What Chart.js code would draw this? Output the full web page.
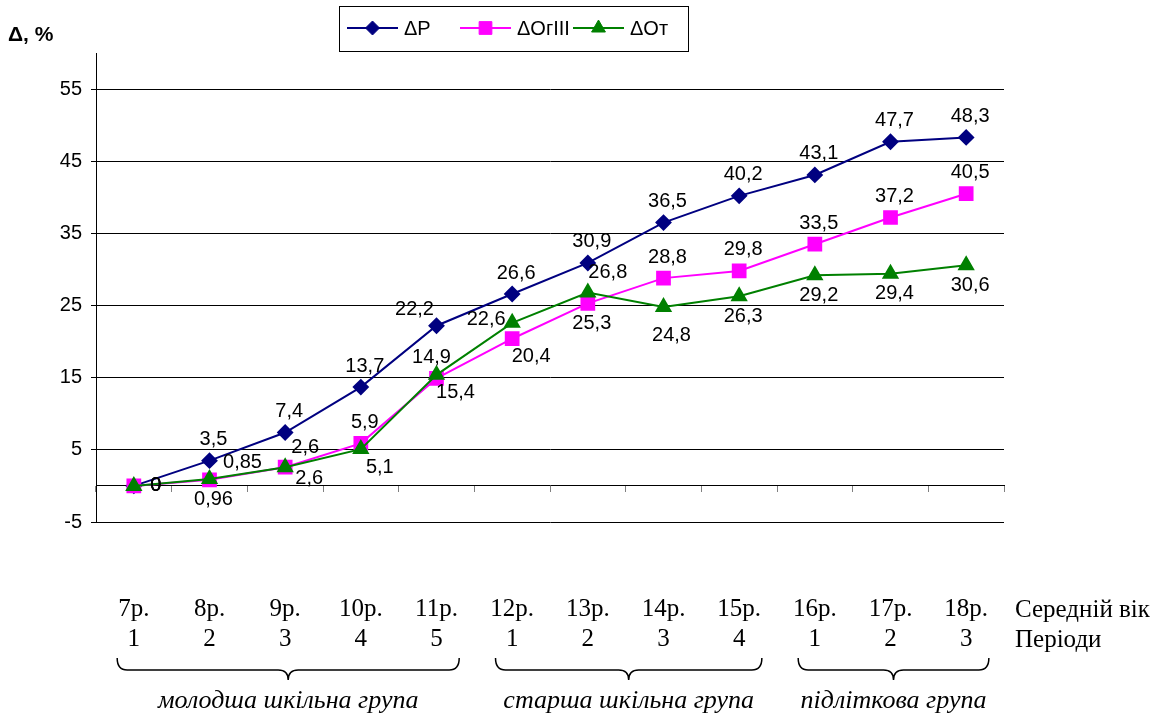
<!DOCTYPE html>
<html>
<head>
<meta charset="utf-8">
<script src="https://cdn.jsdelivr.net/npm/chart.js@4.4.1/dist/chart.umd.min.js"></script>
<style>
html,body{margin:0;padding:0;background:#fff;}
#wrap{width:1164px;height:722px;position:relative;}
canvas{display:block;}
</style>
</head>
<body>
<div id="wrap"><canvas id="c" width="1164" height="722" style="width:1164px;height:722px;"></canvas></div>
<script>
// ---------- data ----------
const ages = ['7р.','8р.','9р.','10р.','11р.','12р.','13р.','14р.','15р.','16р.','17р.','18р.'];
const periods = ['1','2','3','4','5','1','2','3','4','1','2','3'];
const seriesNames = ['ΔР','ΔОгIII','ΔОт'];
const deltaP    = [0, 3.5, 7.4, 13.7, 22.2, 26.6, 30.9, 36.5, 40.2, 43.1, 47.7, 48.3];
const deltaOgSh = [0, 0.85, 2.6, 5.9, 14.9, 20.4, 25.3, 28.8, 29.8, 33.5, 37.2, 40.5];
const deltaOt   = [0, 0.96, 2.6, 5.1, 15.4, 22.6, 26.8, 24.8, 26.3, 29.2, 29.4, 30.6];
const yTicks = [-5, 5, 15, 25, 35, 45, 55];
const groupNames = ['молодша шкільна група', 'старша шкільна група', 'підліткова група'];
const groupFirst = [0, 5, 9];
const groupLast  = [4, 8, 11];
const rowTitles = ['Середній вік', 'Періоди'];
const yTitle = 'Δ, %';

// ---------- label placement (style) ----------
const OFF = {
  above:[4,-21], below:[4,20], right:[22,0], aboveLeft:[-22,-16], aboveNearL:[-5,-21],
  aboveRight:[20,-20], rightUp:[33,-17], rightDown:[24,11], belowRight:[19,18],
  belowLow:[8,29], left:[-26,-3]
};
const placeP  = ['right','above','above','above','aboveLeft','above','above','above','above','above','above','above'];
const placeOg = ['right','rightUp','aboveRight','above','aboveNearL','belowRight','below','above','above','above','above','above'];
const placeOt = ['right','below','rightDown','belowRight','belowRight','left','aboveRight','belowLow','below','below','below','below'];

const fmt = v => String(v).replace('.', ',');

const SANS = '"Liberation Sans", Arial, sans-serif';
const SERIF = '"Liberation Serif", "Times New Roman", serif';

const decor = {
  id: 'decor',
  afterDatasetsDraw(chart) {
    const ctx = chart.ctx;
    const xs = chart.scales.x, ys = chart.scales.y;
    const places = [placeP, placeOg, placeOt];
    ctx.save();
    ctx.fillStyle = '#000';
    ctx.font = '20px ' + SANS;
    ctx.textAlign = 'center';
    ctx.textBaseline = 'middle';
    chart.data.datasets.forEach((ds, di) => {
      ds.data.forEach((v, i) => {
        const o = OFF[places[di][i]];
        const x = xs.getPixelForValue(i) + o[0];
        const y = ys.getPixelForValue(v) + o[1];
        ctx.fillText(fmt(v), x, y);
      });
    });
    ctx.restore();
  },
  afterDraw(chart) {
    const ctx = chart.ctx;
    const xs = chart.scales.x;
    const area = chart.chartArea;
    ctx.save();
    // y title
    ctx.fillStyle = '#000';
    ctx.font = 'bold 21px ' + SANS;
    ctx.textAlign = 'left';
    ctx.textBaseline = 'middle';
    ctx.fillText(yTitle, 8, 35);

    // legend
    const lx = 339, ly = 6, lw = 349, lh = 45, col = 113;
    ctx.strokeStyle = '#000';
    ctx.lineWidth = 1;
    ctx.strokeRect(lx + 0.5, ly + 0.5, lw, lh);
    ctx.font = '20px ' + SANS;
    chart.data.datasets.forEach((ds, i) => {
      const x0 = lx + 8 + i * col, cy = ly + 22;
      ctx.strokeStyle = ds.borderColor;
      ctx.lineWidth = 2;
      ctx.beginPath(); ctx.moveTo(x0, cy); ctx.lineTo(x0 + 51, cy); ctx.stroke();
      ctx.fillStyle = ds.pointBackgroundColor;
      ctx.strokeStyle = ds.borderColor;
      ctx.lineWidth = 1;
      Chart.helpers.drawPoint(ctx, {pointStyle: ds.pointStyle, radius: ds.pointRadius, rotation: 0, borderWidth: 1}, x0 + 25.5, cy);
      ctx.fillStyle = '#000';
      ctx.textAlign = 'left';
      ctx.textBaseline = 'middle';
      ctx.fillText(ds.label, x0 + 57, cy + 1);
    });

    // braces and group names
    const step = xs.getPixelForValue(1) - xs.getPixelForValue(0);
    ctx.strokeStyle = '#000';
    ctx.lineWidth = 1.5;
    const yTop = 658, yBot = 680, yLine = 670, r = 10;
    groupNames.forEach((name, g) => {
      const x1 = xs.getPixelForValue(groupFirst[g]) - 0.22 * step;
      const x2 = xs.getPixelForValue(groupLast[g]) + 0.3 * step;
      const mid = (x1 + x2) / 2;
      ctx.beginPath();
      ctx.moveTo(x1, yTop);
      ctx.quadraticCurveTo(x1, yLine, x1 + r, yLine);
      ctx.lineTo(mid - r, yLine);
      ctx.quadraticCurveTo(mid, yLine, mid, yBot);
      ctx.quadraticCurveTo(mid, yLine, mid + r, yLine);
      ctx.lineTo(x2 - r, yLine);
      ctx.quadraticCurveTo(x2, yLine, x2, yTop);
      ctx.stroke();
      ctx.fillStyle = '#000';
      ctx.font = 'italic 26px ' + SERIF;
      ctx.textAlign = 'center';
      ctx.textBaseline = 'middle';
      ctx.fillText(name, mid, 701);
    });

    // row titles at right
    ctx.font = '25px ' + SERIF;
    ctx.textAlign = 'left';
    ctx.textBaseline = 'middle';
    rowTitles.forEach((t, i) => ctx.fillText(t, area.right + 11, 610 + i * 30));
    ctx.restore();
  }
};

new Chart(document.getElementById('c'), {
  type: 'line',
  data: {
    labels: ages.map((a, i) => [a, periods[i]]),
    datasets: [
      { label: seriesNames[0], data: deltaP, borderColor: '#000080', backgroundColor: '#000080',
        pointBackgroundColor: '#000080', pointBorderColor: '#000080', pointStyle: 'rectRot',
        pointRadius: 7, pointHoverRadius: 7, borderWidth: 2, tension: 0, order: 2 },
      { label: seriesNames[1], data: deltaOgSh, borderColor: '#FF00FF', backgroundColor: '#FF00FF',
        pointBackgroundColor: '#FF00FF', pointBorderColor: '#FF00FF', pointStyle: 'rect',
        pointRadius: 9, pointHoverRadius: 9, borderWidth: 2, tension: 0, order: 1 },
      { label: seriesNames[2], data: deltaOt, borderColor: '#008000', backgroundColor: '#008000',
        pointBackgroundColor: '#008000', pointBorderColor: '#008000', pointStyle: 'triangle',
        pointRadius: 8, pointHoverRadius: 8, borderWidth: 2, tension: 0, order: 0 }
    ]
  },
  options: {
    responsive: false,
    maintainAspectRatio: false,
    animation: false,
    devicePixelRatio: 1,
    layout: { padding: { top: 53, right: 160, bottom: 200, left: 0 } },
    plugins: { legend: { display: false }, tooltip: { enabled: false }, title: { display: false } },
    scales: {
      x: {
        type: 'category',
        position: { y: 0 },
        offset: true,
        grid: { offset: true, drawOnChartArea: false, drawTicks: true, tickLength: 6, color: '#808080', lineWidth: 1 },
        border: { display: true, color: '#000', width: 1 },
        ticks: { font: { family: SERIF, size: 25, lineHeight: 1.2 }, color: '#000', padding: 103,
                 maxRotation: 0, minRotation: 0, autoSkip: false },
        afterFit: s => { s.height = 0; }
      },
      y: {
        type: 'linear',
        position: 'left',
        min: -5, max: 60,
        afterBuildTicks: s => { s.ticks = yTicks.map(v => ({ value: v })); },
        grid: { color: '#000', lineWidth: 1, drawTicks: true, tickLength: 5 },
        border: { display: true, color: '#000', width: 1 },
        ticks: { font: { family: SANS, size: 20 }, color: '#000', padding: 9, callback: v => String(v) },
        afterFit: s => { s.width = 96; }
      }
    }
  },
  plugins: [decor]
});
</script>
</body>
</html>
